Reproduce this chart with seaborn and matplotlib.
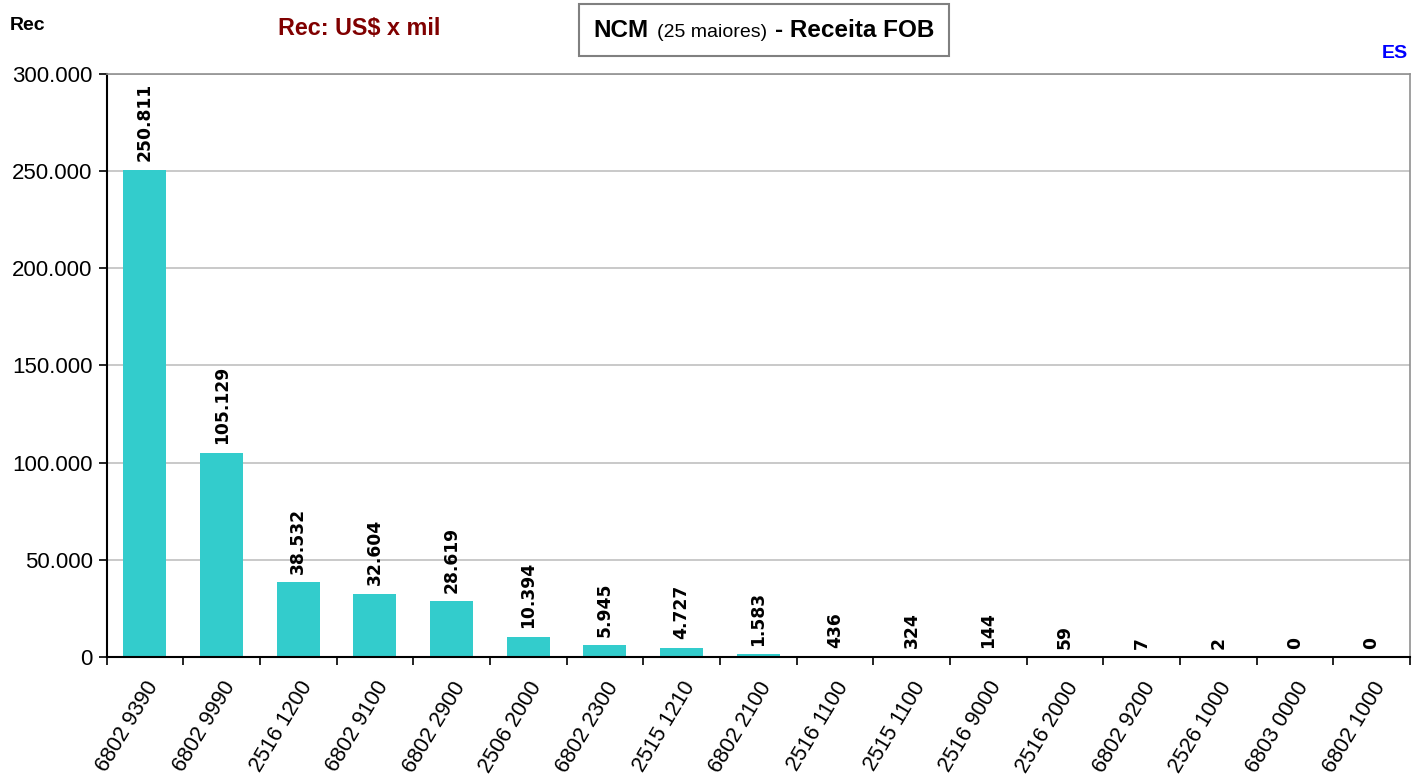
import pandas as pd
import matplotlib
matplotlib.use("Agg")
import matplotlib.pyplot as plt
import seaborn as sns
from matplotlib.offsetbox import TextArea, HPacker, AnchoredOffsetbox
from matplotlib.ticker import FuncFormatter

# dados
ncm = ['6802 9390', '6802 9990', '2516 1200', '6802 9100', '6802 2900', '2506 2000',
       '6802 2300', '2515 1210', '6802 2100', '2516 1100', '2515 1100', '2516 9000',
       '2516 2000', '6802 9200', '2526 1000', '6803 0000', '6802 1000']
receita = [250811, 105129, 38532, 32604, 28619, 10394, 5945, 4727, 1583, 436, 324, 144,
           59, 7, 2, 0, 0]

df = pd.DataFrame({'ncm': ncm, 'receita': receita})


def fmt(v):
    return f'{int(v):,}'.replace(',', '.')


sns.set_style('white')
plt.rcParams['font.family'] = ['Liberation Sans', 'DejaVu Sans']
plt.rcParams['text.color'] = 'black'
plt.rcParams['xtick.color'] = 'black'
plt.rcParams['ytick.color'] = 'black'
plt.rcParams['axes.labelcolor'] = 'black'

fig = plt.figure(figsize=(14.12, 7.76), dpi=100)
ax = fig.add_axes([0.0755, 0.1534, 0.923, 0.7512])

sns.barplot(data=df, x='ncm', y='receita', color='#33CCCC', width=0.56,
            saturation=1, linewidth=0, ax=ax, zorder=2)

ax.set_ylim(0, 300000)
ax.set_xlim(-0.5, len(ncm) - 0.5)
ax.set_yticks(range(0, 300001, 50000))
ax.yaxis.set_major_formatter(FuncFormatter(lambda v, p: fmt(v)))
ax.grid(axis='y', color='#C0C0C0', linewidth=1.2, zorder=0)
ax.set_axisbelow(True)
ax.set_xlabel('')
ax.set_ylabel('')

for s in ['top', 'right']:
    ax.spines[s].set_color('#909090')
    ax.spines[s].set_linewidth(1.2)
for s in ['left', 'bottom']:
    ax.spines[s].set_color('black')
    ax.spines[s].set_linewidth(1.5)

ax.tick_params(axis='y', direction='out', length=6, width=1.2, left=True,
               labelsize=16, pad=4)

ax.set_xticks(range(len(ncm)))
ax.set_xticks([i - 0.5 for i in range(len(ncm) + 1)], minor=True)
ax.tick_params(axis='x', which='major', length=0, pad=15)
ax.tick_params(axis='x', which='minor', direction='out', length=6, width=1.2,
               bottom=True)
ax.set_xticklabels(ncm, rotation=59, ha='right', va='top', rotation_mode='anchor',
                   fontsize=15.5)

for i, v in enumerate(receita):
    ax.annotate(fmt(v), (i, v), xytext=(0, 6), textcoords='offset points',
                rotation=90, ha='center', va='bottom', fontsize=12.3,
                fontweight='bold', fontfamily='DejaVu Sans', color='black')

fig.text(0.007, 0.967, 'Rec', fontsize=14, fontweight='bold', va='center')
fig.text(0.197, 0.963, 'Rec: US$ x mil', fontsize=16.8, fontweight='bold',
         color='#800000', va='center')
fig.text(0.997, 0.931, 'ES', fontsize=14, fontweight='bold', color='#0000FF',
         va='center', ha='right')

title = HPacker(children=[
    TextArea('NCM', textprops=dict(fontsize=17.5, fontweight='bold')),
    TextArea('(25 maiores)', textprops=dict(fontsize=14)),
    TextArea('- Receita FOB', textprops=dict(fontsize=17.5, fontweight='bold')),
], align='baseline', pad=0, sep=6)
box = AnchoredOffsetbox(loc='center', child=title, pad=1.05, frameon=True,
                        prop=dict(size=10),
                        bbox_to_anchor=(0.541, 0.961), bbox_transform=fig.transFigure,
                        borderpad=0)
box.patch.set_edgecolor('#808080')
box.patch.set_linewidth(1.5)
fig.add_artist(box)

fig.savefig('out.png', dpi=100)
